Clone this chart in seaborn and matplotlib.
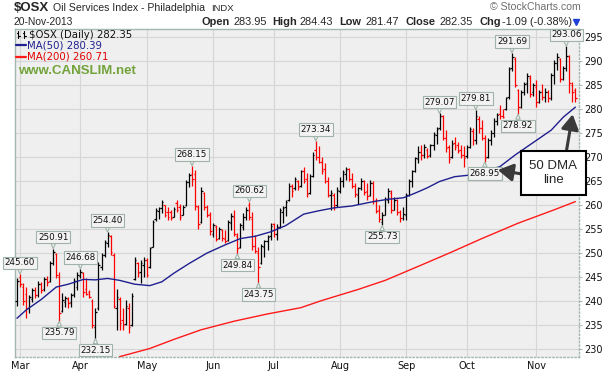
import numpy as np
import pandas as pd
import matplotlib
matplotlib.use("Agg")
import matplotlib.pyplot as plt
import seaborn as sns
from matplotlib.lines import Line2D
from matplotlib.patches import Rectangle

# $OSX daily bars, 28-Feb-2013 .. 20-Nov-2013 (one row of values per month)
opens = [
    240.0,
    245.0, 243.0, 241.5, 238.5, 240.5, 242.3, 241.2, 243.6, 242.4, 244.6, 244.2, 248.0, 249.8, 245.0, 238.0, 239.8, 240.5, 239.8, 241.5, 243.0,
    245.3, 245.8, 242.5, 241.8, 240.0, 234.5, 238.5, 247.0, 249.6, 252.0, 253.5, 249.5, 238.5, 240.5, 236.0, 235.2, 238.5, 235.0, 244.5, 248.0, 246.0, 247.5,
    248.5, 247.0, 251.3, 257.0, 258.8, 259.3, 260.0, 258.5, 258.5, 257.5, 260.5, 259.5, 258.0, 260.0, 264.8, 266.5, 266.5, 259.5, 256.5, 262.5, 259.5, 258.2,
    254.0, 255.5, 253.2, 254.8, 253.0, 252.8, 256.3, 257.5, 253.5, 251.2, 255.5, 257.5, 260.0, 257.0, 251.5, 250.0, 248.0, 251.3, 252.5, 253.5,
    256.0, 254.0, 255.5, 258.5, 259.5, 261.0, 264.0, 263.5, 265.0, 264.0, 267.0, 265.5, 262.5, 266.0, 271.5, 270.0, 269.0, 267.5, 265.0, 262.0, 262.0, 260.0,
    263.0, 265.0, 266.5, 267.5, 265.5, 264.0, 262.0, 263.5, 265.0, 263.0, 262.0, 264.5, 260.8, 259.0, 256.5, 258.0, 261.0, 262.5, 259.0, 261.0, 258.5, 257.2,
    258.0, 262.0, 265.0, 267.0, 269.5, 271.0, 270.5, 271.5, 270.5, 272.5, 274.5, 276.0, 278.5, 274.0, 272.0, 270.0, 273.0, 272.5, 271.5, 270.5,
    270.2, 272.0, 275.5, 273.5, 278.0, 276.0, 274.0, 270.0, 273.5, 275.0, 277.5, 279.0, 278.5, 280.0, 282.5, 288.5, 290.5, 284.0, 280.5, 283.5, 285.5, 286.5, 283.5,
    284.5, 281.5, 283.5, 282.5, 283.5, 282.2, 287.0, 289.5, 290.5, 286.3, 288.5, 291.0, 285.0, 283.95,
]
highs = [
    244.7,
    245.6, 243.8, 243.0, 241.3, 242.8, 243.0, 244.2, 244.0, 245.0, 245.2, 248.4, 250.91, 249.9, 246.0, 241.6, 241.0, 240.8, 241.6, 244.7, 246.1,
    246.68, 246.1, 244.7, 242.3, 240.5, 238.5, 248.2, 250.0, 252.7, 254.40, 253.8, 250.0, 242.6, 240.9, 238.5, 240.2, 239.5, 241.6, 249.2, 248.2, 248.5, 249.2,
    248.9, 251.3, 256.9, 259.3, 259.6, 261.0, 260.0, 259.6, 259.0, 259.6, 261.0, 260.3, 260.0, 265.2, 266.6, 268.15, 267.3, 260.0, 263.8, 262.8, 260.0, 258.6,
    256.2, 255.8, 255.5, 255.1, 254.8, 256.9, 258.3, 259.0, 254.1, 256.2, 258.3, 259.6, 260.62, 258.5, 253.8, 251.3, 251.9, 252.7, 253.8, 256.2,
    256.2, 256.0, 259.3, 259.7, 261.0, 264.5, 264.3, 265.9, 265.2, 267.3, 268.0, 266.6, 266.5, 271.0, 273.34, 272.2, 270.0, 268.7, 265.9, 263.1, 262.5, 263.8,
    265.9, 267.3, 268.0, 267.8, 266.6, 264.5, 263.8, 265.6, 265.2, 264.5, 265.2, 264.9, 261.4, 260.0, 258.6, 261.7, 263.5, 263.1, 261.7, 261.2, 258.9, 259.5,
    262.4, 265.5, 267.3, 270.1, 272.2, 272.5, 272.8, 271.8, 272.8, 275.3, 276.3, 279.07, 278.8, 275.6, 272.5, 273.5, 274.2, 273.2, 272.5, 272.2,
    272.5, 276.3, 276.0, 279.81, 278.5, 277.7, 274.5, 274.0, 275.6, 278.1, 279.1, 280.8, 280.1, 282.6, 288.8, 291.69, 290.8, 284.2, 284.0, 285.7, 287.4, 287.1, 285.5,
    286.0, 284.0, 285.3, 284.3, 284.0, 287.4, 290.2, 291.6, 290.6, 289.0, 293.06, 291.3, 285.7, 284.43,
]
lows = [
    239.0,
    243.0, 239.2, 236.5, 237.5, 239.8, 240.6, 240.8, 241.6, 242.0, 243.2, 244.0, 247.6, 244.8, 235.79, 237.8, 238.8, 238.5, 238.8, 240.9, 242.3,
    244.7, 240.9, 241.2, 240.6, 234.3, 232.15, 238.2, 246.5, 249.2, 251.3, 249.5, 238.5, 234.0, 234.0, 234.0, 235.0, 233.3, 234.8, 244.4, 245.1, 243.7, 245.1,
    245.1, 246.8, 251.3, 256.7, 257.0, 258.3, 257.6, 256.9, 256.9, 257.5, 258.6, 256.9, 257.9, 259.7, 263.8, 264.0, 259.0, 255.1, 256.3, 259.0, 257.6, 253.8,
    253.4, 252.4, 253.0, 252.4, 252.0, 252.6, 254.8, 253.6, 249.84, 251.0, 254.8, 256.9, 256.9, 250.6, 249.9, 243.75, 247.8, 249.2, 250.6, 252.7,
    253.4, 252.8, 255.3, 256.2, 257.8, 260.8, 261.7, 263.1, 263.1, 263.8, 264.5, 261.7, 262.2, 265.9, 269.4, 268.7, 266.5, 264.5, 261.7, 259.0, 259.0, 259.6,
    262.4, 263.8, 265.2, 265.0, 263.5, 261.7, 260.3, 263.1, 262.1, 261.1, 261.8, 260.3, 258.3, 256.5, 255.73, 257.9, 260.5, 258.3, 258.9, 257.9, 256.5, 256.8,
    256.9, 261.8, 263.8, 266.8, 268.7, 269.4, 269.7, 269.7, 270.1, 271.5, 272.8, 275.6, 273.5, 271.1, 268.7, 269.8, 271.5, 270.8, 269.7, 268.0,
    269.8, 271.8, 272.5, 272.8, 275.0, 273.5, 268.95, 269.8, 272.5, 274.2, 276.7, 278.0, 278.1, 279.8, 282.0, 288.0, 284.5, 278.92, 280.3, 283.0, 283.3, 282.6, 282.8,
    280.5, 281.2, 281.8, 281.5, 281.5, 281.9, 285.3, 288.1, 285.7, 286.0, 288.0, 283.3, 281.5, 281.47,
]
closes = [
    244.2,
    243.5, 240.0, 238.5, 240.8, 242.3, 241.2, 243.6, 242.2, 244.6, 244.0, 247.9, 250.2, 245.4, 237.6, 240.2, 240.7, 239.6, 241.2, 244.2, 245.5,
    246.0, 241.8, 241.5, 240.9, 235.0, 237.8, 247.5, 249.5, 252.2, 253.8, 250.2, 239.0, 240.8, 235.5, 235.0, 239.0, 234.5, 241.0, 248.5, 245.8, 248.0, 248.6,
    245.5, 251.0, 256.5, 259.0, 259.3, 260.7, 258.0, 257.5, 257.2, 259.2, 259.0, 257.5, 259.5, 264.8, 266.2, 265.5, 259.8, 256.0, 263.0, 259.5, 258.0, 254.5,
    255.8, 253.0, 255.0, 253.2, 252.5, 256.5, 257.8, 254.0, 251.0, 255.8, 257.5, 259.0, 257.5, 251.5, 250.5, 247.0, 251.5, 252.4, 253.3, 255.7,
    254.0, 255.5, 259.0, 259.4, 260.6, 264.0, 263.0, 265.5, 263.8, 267.0, 265.0, 262.2, 266.0, 270.5, 270.0, 269.0, 267.0, 265.0, 262.0, 262.5, 260.0, 263.2,
    265.0, 266.8, 267.5, 265.5, 264.0, 262.2, 263.5, 265.0, 262.8, 261.8, 264.5, 260.8, 258.8, 257.0, 258.0, 261.2, 263.0, 259.0, 261.0, 258.5, 257.2, 258.2,
    262.0, 265.0, 267.0, 269.8, 271.0, 270.5, 272.0, 270.3, 272.5, 274.8, 275.8, 278.5, 274.0, 271.8, 269.5, 272.8, 272.0, 271.2, 270.5, 269.8,
    272.0, 275.8, 273.5, 278.5, 276.0, 274.0, 269.8, 273.5, 275.0, 277.6, 278.8, 278.5, 278.3, 282.3, 288.3, 290.8, 285.0, 280.5, 283.5, 285.3, 286.8, 283.2, 285.0,
    281.5, 283.5, 282.5, 283.6, 282.2, 287.0, 289.5, 290.8, 286.2, 288.5, 291.0, 285.5, 283.44, 282.35,
]

# moving averages (bar index, value)
ma50_idx = [0, 3, 8, 13, 17, 22, 26, 30, 34, 39, 44, 48, 52, 57, 63, 69, 74, 79, 84, 89,
            95, 100, 105, 111, 118, 123, 128, 132, 136, 140, 145, 151, 155, 160, 165, 171, 177, 181, 185]
ma50_val = [236.4, 238.1, 240.3, 242.9, 243.5, 244.5, 244.4, 244.7, 244.3, 243.5, 243.2, 244.0, 245.8, 247.8,
            250.0, 251.7, 253.0, 253.5, 254.4, 255.7, 258.1, 258.8, 259.4, 259.8, 260.7, 261.2, 261.5, 262.5,
            263.6, 264.9, 265.9, 266.3, 267.0, 268.0, 270.4, 273.0, 275.6, 278.3, 280.39]
ma200_idx = [34, 44, 52, 61, 72, 83, 94, 101, 113, 122, 134, 144, 154, 166, 178, 185]
ma200_val = [228.4, 230.1, 232.0, 234.0, 235.8, 237.3, 238.6, 240.1, 242.4, 244.3, 247.5, 250.2, 253.0, 256.2, 259.0, 260.71]

# bars carrying a price label
label_high_days = [1, 12, 21, 30, 58, 77, 99, 140, 152, 164, 182]
label_low_days = [14, 26, 73, 80, 121, 155, 166]

holidays = ["2013-03-29", "2013-05-27", "2013-07-04", "2013-09-02"]

W, H = 610, 374


def fx(px):
    return px / W


def fy(py):
    return 1 - py / H


sns.set_theme(style="whitegrid")
plt.rcParams["font.family"] = ["DejaVu Sans"]

fig = plt.figure(figsize=(W / 100, H / 100), dpi=100)
fig.patch.set_facecolor("white")
ax = fig.add_axes([fx(15), fy(357), (579 - 15) / W, (357 - 29) / H])
ax.set_facecolor("#EFEFEF")

n = len(closes)
x = np.arange(n)
o = np.array(opens)
h = np.array(highs)
l = np.array(lows)
c = np.array(closes)
prev = np.r_[c[0] - 1, c[:-1]]
cols = np.where(c < prev, "#FF0000", "#000000")

ax.vlines(x, l, h, colors=cols, lw=0.9, zorder=3)
ax.hlines(o, x - 0.5, x, colors=cols, lw=0.9, zorder=3)
ax.hlines(c, x, x + 0.5, colors=cols, lw=0.9, zorder=3)

sns.lineplot(x=ma50_idx, y=ma50_val, color="#1F1F8F", lw=1.0, ax=ax, zorder=4)
sns.lineplot(x=ma200_idx, y=ma200_val, color="#FF1A1A", lw=1.0, ax=ax, zorder=4)

# month ticks from trading calendar
dates = pd.bdate_range("2013-02-28", "2013-11-20")
dates = dates[~dates.isin(pd.to_datetime(holidays))]
month_pos = [k for k in range(1, len(dates)) if dates[k].month != dates[k - 1].month]
ax.set_xticks(month_pos)
ax.set_xticklabels([dates[k].strftime("%b") for k in month_pos])
ax.set_xlim(-0.66, 186.2)

ax.yaxis.tick_right()
ax.set_yticks(np.arange(230, 296, 5))
ax.set_ylim(228.33, 296.67)
ax.tick_params(axis="both", labelsize=7, length=2, width=0.6, color="#9AA9A2",
               labelcolor="#111111", pad=2)
ax.tick_params(axis="x", pad=1)
ax.tick_params(axis="y", right=True, left=False, labelright=True, labelleft=False)
ax.grid(True, color="#D6D6D6", lw=0.8)
ax.set_xlabel("")
ax.set_ylabel("")
for side, sp in ax.spines.items():
    sp.set_visible(True)
    sp.set_color("#A3B7AD")
    sp.set_linewidth(1.0)
ax.spines["bottom"].set_linestyle(":")
ax.spines["right"].set_linestyle(":")

# price labels
box = dict(boxstyle="square,pad=0.18", fc="#F3F3F3", ec="#9FB3A8", lw=0.8)
wedge = dict(arrowstyle="wedge,tail_width=0.5", fc="#F3F3F3", ec="#9FB3A8", lw=0.8,
             shrinkA=0, shrinkB=0)
for d in label_high_days:
    ax.annotate(f"{highs[d]:.2f}", xy=(d, highs[d]), xytext=(0, 5), textcoords="offset points",
                ha="center", va="bottom", fontsize=6.3, color="#111111", bbox=box,
                arrowprops=wedge, zorder=6)
for d in label_low_days:
    ax.annotate(f"{lows[d]:.2f}", xy=(d, lows[d]), xytext=(0, -5), textcoords="offset points",
                ha="center", va="top", fontsize=6.3, color="#111111", bbox=box,
                arrowprops=wedge, zorder=6)

# 50 DMA callout
arrow = dict(arrowstyle="-|>,head_length=0.6,head_width=0.35", color="#3A3A3A", lw=2.2,
             shrinkA=0, shrinkB=0, mutation_scale=15)
ax.annotate("", xy=(184.1, 278.9), xytext=(182.1, 271.5), arrowprops=arrow,
            annotation_clip=False, zorder=7)
ax.annotate("", xy=(159.3, 267.3), xytext=(166.9, 266.5), arrowprops=arrow,
            annotation_clip=False, zorder=7)
fig.add_artist(Rectangle((fx(521), fy(195)), (585.5 - 521) / W, (195 - 151) / H,
                         transform=fig.transFigure, fc="white", ec="black", lw=1.5, zorder=8))
fig.text(fx(553), fy(173), "50 DMA\nline", ha="center", va="center", fontsize=9.5,
         family="Liberation Sans", linespacing=1.15, zorder=9)

# header
hdr = "Liberation Sans"
fig.text(fx(14), fy(8), "$OSX", fontsize=9.5, weight="bold", family=hdr, va="center")
fig.text(fx(53), fy(8), "Oil Services Index - Philadelphia", fontsize=7.6, family=hdr, va="center")
fig.text(fx(211), fy(8.5), "INDX", fontsize=6.8, family=hdr, va="center")
fig.text(fx(490), fy(7), "\u00a9 StockCharts.com", fontsize=7.6, family=hdr, va="center",
         color="#6E6E6E")
fig.text(fx(14), fy(22), "20-Nov-2013", fontsize=7.4, family=hdr, va="center")
row = [(202, "Open", True), (233, "283.95", False), (272.5, "High", True), (300, "284.43", False),
       (339, "Low", True), (365.5, "281.47", False), (405, "Close", True), (439.5, "282.35", False),
       (479, "Chg", True), (502.5, "-1.09 (-0.38%)", False)]
for px, txt, bold in row:
    fig.text(fx(px), fy(22), txt, fontsize=7.9, family=hdr, va="center",
             weight="bold" if bold else "normal")
fig.add_artist(Line2D([fx(576)], [fy(22)], marker="v", markersize=4.5, color="#1F3FD6",
                      transform=fig.transFigure))

# legend block inside the plot
for bx in (18, 24):
    fig.add_artist(Line2D([fx(bx), fx(bx)], [fy(31), fy(37.5)], color="black", lw=0.8))
    fig.add_artist(Line2D([fx(bx - 1.5), fx(bx)], [fy(32.5), fy(32.5)], color="black", lw=0.8))
    fig.add_artist(Line2D([fx(bx), fx(bx + 1.5)], [fy(35.5), fy(35.5)], color="black", lw=0.8))
fig.text(fx(29), fy(34.5), "$OSX (Daily) 282.35", fontsize=7.3, va="center", color="#111111")
fig.add_artist(Line2D([fx(16), fx(26)], [fy(45.3), fy(45.3)], color="#1F1F8F", lw=1.6))
fig.text(fx(27), fy(45.3), "MA(50) 280.39", fontsize=7.3, va="center", color="#1F1F8F")
fig.add_artist(Line2D([fx(16), fx(26)], [fy(56.7), fy(56.7)], color="#FF1A1A", lw=1.6))
fig.text(fx(27), fy(56.7), "MA(200) 260.71", fontsize=7.3, va="center", color="#E00000")
fig.text(fx(18), fy(71.5), "www.CANSLIM.net", fontsize=9.5, weight="bold", family=hdr,
         va="center", color="#72A33A")

fig.savefig("out.png", dpi=100)
